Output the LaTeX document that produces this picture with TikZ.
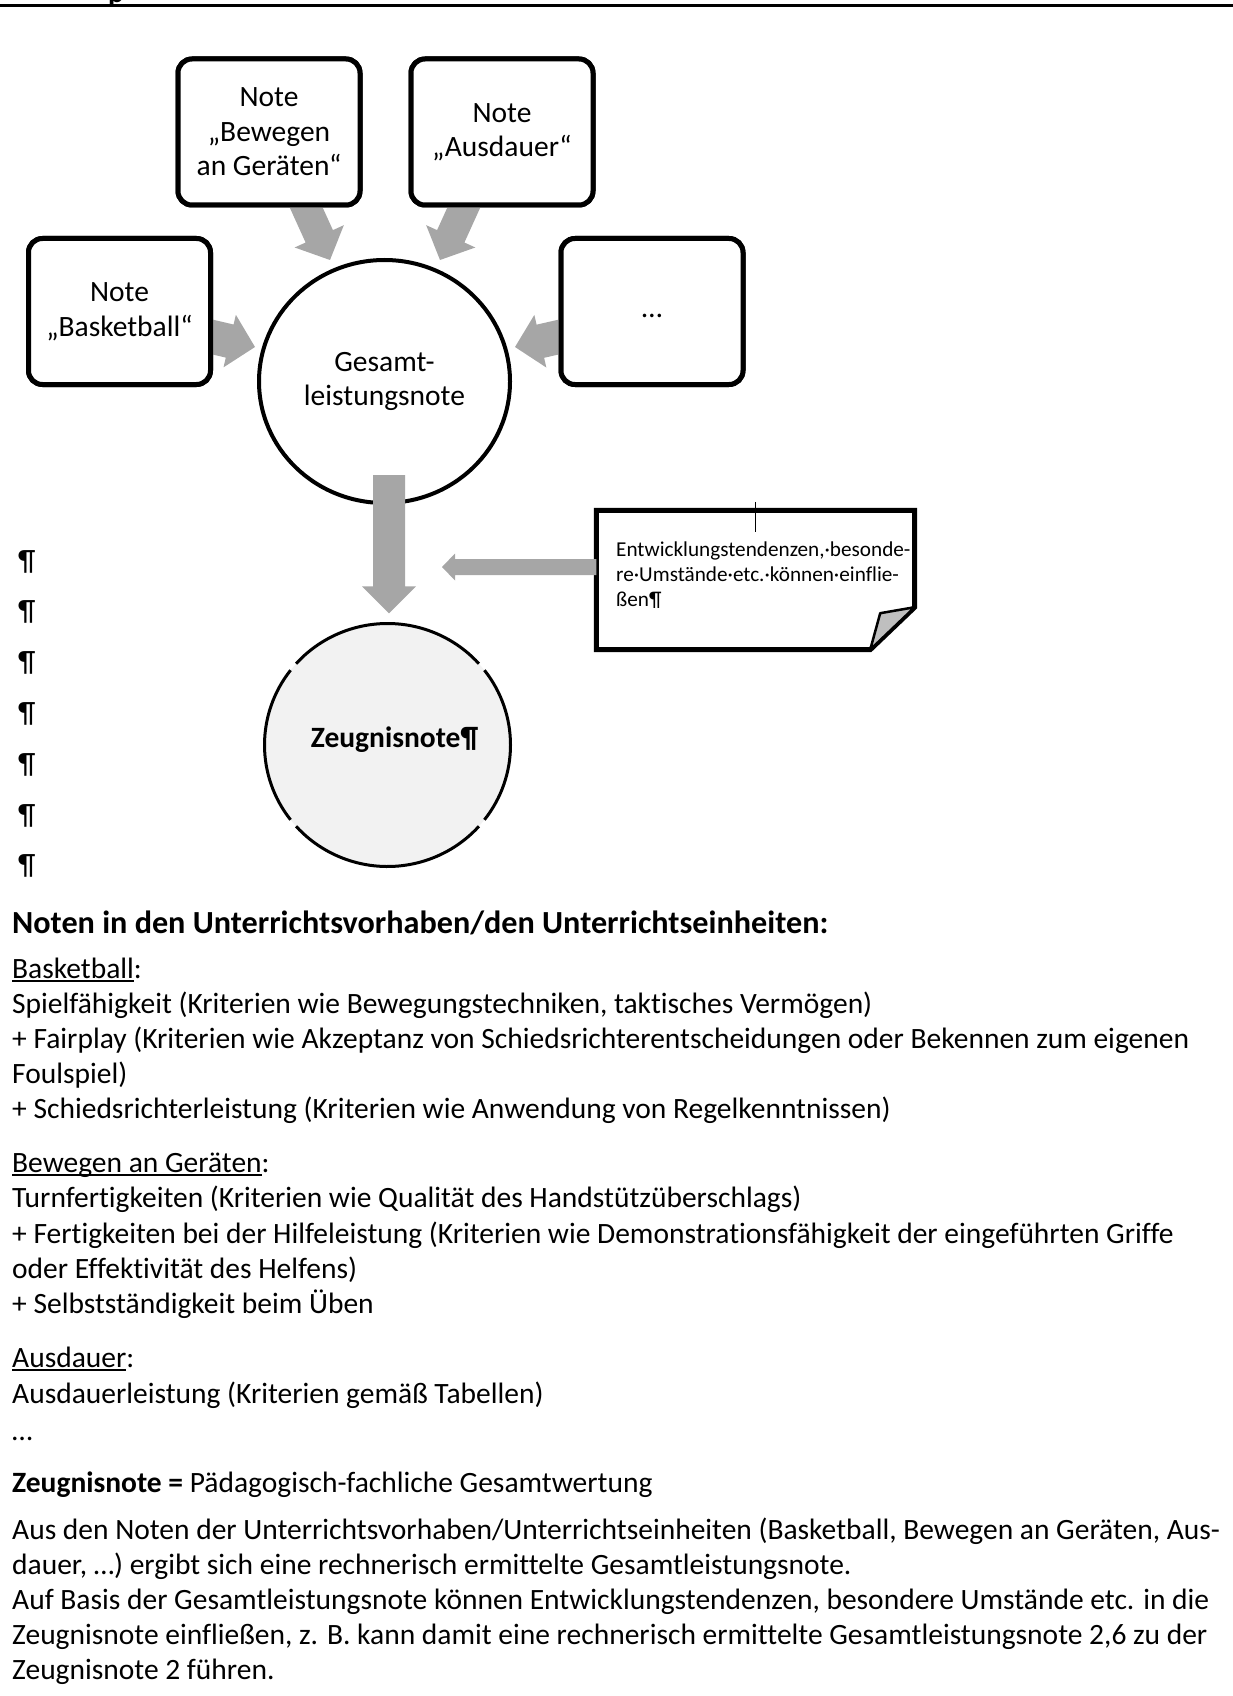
\documentclass[tikz,border=0pt]{standalone}
\usepackage{fontspec}
\setmainfont{Carlito}[Ligatures={NoCommon}]
\usetikzlibrary{shapes.geometric,calc}
\definecolor{arrowfill}{RGB}{166,166,166}
\definecolor{zeugfill}{RGB}{242,242,242}
\definecolor{foldfill}{RGB}{191,191,191}
\newcommand{\bodyfont}{\fontsize{29.5}{34.5}\selectfont}
\newcommand{\headfont}{\fontsize{32.2}{36}\selectfont\bfseries}
\newcommand{\notefont}{\fontsize{21.2}{25}\selectfont}
\newsavebox{\myulbox}
\newcommand{\myul}[1]{\sbox{\myulbox}{#1}\rlap{\rule[-3.8pt]{\wd\myulbox}{1.8pt}}\usebox{\myulbox}}
% block arrow: #1 start, #2 tip, #3 shaft half width, #4 head half width, #5 head length
\newcommand{\garrow}[5]{%
  \coordinate (hb) at ($(#2)!#5!(#1)$);
  \fill[arrowfill] ($(#1)!#3!90:(#2)$) -- ($(hb)!#3!-90:(#1)$) -- ($(hb)!#4!-90:(#1)$)
    -- (#2) -- ($(hb)!#4!90:(#1)$) -- ($(hb)!#3!90:(#1)$) -- ($(#1)!#3!-90:(#2)$) -- cycle;
}
\begin{document}
\begin{tikzpicture}[x=1pt,y=-1pt,
  notebox/.style={draw, line width=5pt, rounded corners=14pt, fill=white,
    minimum width=182pt, minimum height=146pt, inner sep=0pt, align=center, font=\bodyfont},
  bigcircle/.style={ellipse, draw, line width=4pt, fill=white, inner sep=0pt,
    minimum width=251pt, minimum height=243pt, align=center, font=\bodyfont},
  txt/.style={anchor=base west, inner sep=0pt, font=\bodyfont},
  pil/.style={anchor=base west, inner sep=0pt, font=\bodyfont},
  notetxt/.style={anchor=base west, inner sep=0pt, font=\notefont}
]
\useasboundingbox (0,0) rectangle (1233,1696);
% top rule and cut-off glyph
\draw[line width=3pt] (0,5.5) -- (1233,5.5);
\begin{scope}
  \clip (0,0) rectangle (1233,20);
  \node[anchor=base west, inner sep=0pt, font=\bodyfont\bfseries] (pfrag) at (108,3) {p};
\end{scope}

% circles
\node[bigcircle] (ges) at (384.5,381.5) {Gesamt-\\leistungsnote};
\node[ellipse, fill=zeugfill, inner sep=0pt, minimum width=246pt, minimum height=243pt] (zeug) at (387.5,745) {};
\foreach \a/\b in {42/138, 142/218, 222/318, 322/398}{
  \draw[line width=3pt] (zeug.center) ++(\a:123 and 121.5) arc[start angle=\a, end angle=\b, x radius=123, y radius=121.5];
}
\node[anchor=base, inner sep=0pt, font=\bodyfont\bfseries] (zeugtxt) at (394.5,747) {Zeugnisnote¶};

% boxes
\node[notebox] (bew) at (269,132) {Note\\„Bewegen\\an Geräten“};
\node[notebox] (aus) at (502,132) {Note\\„Ausdauer“};
\node[notebox] (bas) at (119.5,311.5) {Note\\„Basketball“};
\node[notebox] (dots) at (652,311.5) {\raisebox{-6pt}[0pt][0pt]{…}};

% arrows into the Gesamtleistungsnote
\coordinate (a1s) at ([xshift=34pt,yshift=7pt]bew.south);
\coordinate (a1e) at (330,260);
\coordinate (a2s) at ([xshift=-35pt,yshift=7pt]aus.south);
\coordinate (a2e) at (440,260);
\coordinate (a3s) at ([xshift=-7pt,yshift=-24pt]bas.east);
\coordinate (a3e) at (255,347);
\coordinate (a4s) at ([xshift=7pt,yshift=-24pt]dots.west);
\coordinate (a4e) at (515,347);
\garrow{a1s}{a1e}{15pt}{27pt}{26pt}
\garrow{a2s}{a2e}{15pt}{27pt}{26pt}
\garrow{a3s}{a3e}{17pt}{27pt}{26pt}
\garrow{a4s}{a4e}{17pt}{27pt}{26pt}
% redraw boxes on top of arrow roots
\node[notebox] at (bew) {Note\\„Bewegen\\an Geräten“};
\node[notebox] at (aus) {Note\\„Ausdauer“};
\node[notebox] at (bas) {Note\\„Basketball“};
\node[notebox] at (dots) {\raisebox{-6pt}[0pt][0pt]{…}};

% down arrow
\coordinate (a5s) at ([xshift=4.5pt,yshift=30pt]ges.south);
\coordinate (a5e) at ([xshift=1.5pt,yshift=10pt]zeug.north);
\garrow{a5s}{a5e}{16pt}{27pt}{27pt}

% note with folded corner
\node[minimum width=318pt, minimum height=139pt, inner sep=0pt] (note) at (755.5,580) {};
\draw[line width=5pt, fill=white] (note.north west) -- (note.north east) -- ([yshift=42.5pt]note.south east)
  -- ([xshift=-44.5pt]note.south east) -- (note.south west) -- cycle;
\filldraw[fill=foldfill, line width=2.5pt, line join=round] ([xshift=-44.5pt]note.south east)
  -- ([xshift=-34.5pt,yshift=36.5pt]note.south east) -- ([yshift=42.5pt]note.south east) -- cycle;
\draw[line width=1pt] ([yshift=8.5pt]note.north) -- ([yshift=-21.5pt]note.north);
\node[notetxt] (n1) at (616,556) {Entwicklungstendenzen,·besonde-};
\node[notetxt] (n2) at (616,581) {re·Umstände·etc.·können·einflie-};
\node[notetxt] (n3) at (616,606) {ßen¶};
\coordinate (a6s) at ([yshift=13pt]note.west);
\coordinate (a6e) at (442,567);
\garrow{a6s}{a6e}{8pt}{13.5pt}{13pt}

% pilcrows
\foreach \i in {0,...,6}{
  \node[pil] (p\i) at (18,570+50.8*\i) {¶};
}

% text block
\node[anchor=base west, inner sep=0pt, font=\headfont] (h1) at (12,933) {Noten in den Unterrichtsvorhaben/den Unterrichtseinheiten:};
\node[txt] (t1) at (12,978) {\myul{Basketball}:};
\node[txt] (t2) at (12,1013) {Spielfähigkeit (Kriterien wie Bewegungstechniken, taktisches Vermögen)};
\node[txt] (t3) at (12,1048) {+ Fairplay (Kriterien wie Akzeptanz von Schiedsrichterentscheidungen oder Bekennen zum eigenen};
\node[txt] (t4) at (12,1083) {Foulspiel)};
\node[txt] (t5) at (12,1118) {+ Schiedsrichterleistung (Kriterien wie Anwendung von Regelkenntnissen)};
\node[txt] (t6) at (12,1172) {\myul{Bewegen an Geräten}:};
\node[txt] (t7) at (12,1207) {Turnfertigkeiten (Kriterien wie Qualität des Handstützüberschlags)};
\node[txt] (t8) at (12,1243) {+ Fertigkeiten bei der Hilfeleistung (Kriterien wie Demonstrationsfähigkeit der eingeführten Griffe};
\node[txt] (t9) at (12,1278) {oder Effektivität des Helfens)};
\node[txt] (t10) at (12,1313) {+ Selbstständigkeit beim Üben};
\node[txt] (t11) at (12,1367) {\myul{Ausdauer}:};
\node[txt] (t12) at (12,1403) {Ausdauerleistung (Kriterien gemäß Tabellen)};
\node[txt] (t13) at (12,1440) {…};
\node[txt] (t14) at (12,1492) {\textbf{Zeugnisnote =} Pädagogisch-fachliche Gesamtwertung};
\node[txt] (t15) at (12,1539) {Aus den Noten der Unterrichtsvorhaben/Unterrichtseinheiten (Basketball, Bewegen an Geräten, Aus-};
\node[txt] (t16) at (12,1574) {dauer, …) ergibt sich eine rechnerisch ermittelte Gesamtleistungsnote.};
\node[txt] (t17) at (12,1609) {Auf Basis der Gesamtleistungsnote können Entwicklungstendenzen, besondere Umstände etc. in die};
\node[txt] (t18) at (12,1644) {Zeugnisnote einfließen, z. B. kann damit eine rechnerisch ermittelte Gesamtleistungsnote 2,6 zu der};
\node[txt] (t19) at (12,1679) {Zeugnisnote 2 führen.};
\end{tikzpicture}
\end{document}
